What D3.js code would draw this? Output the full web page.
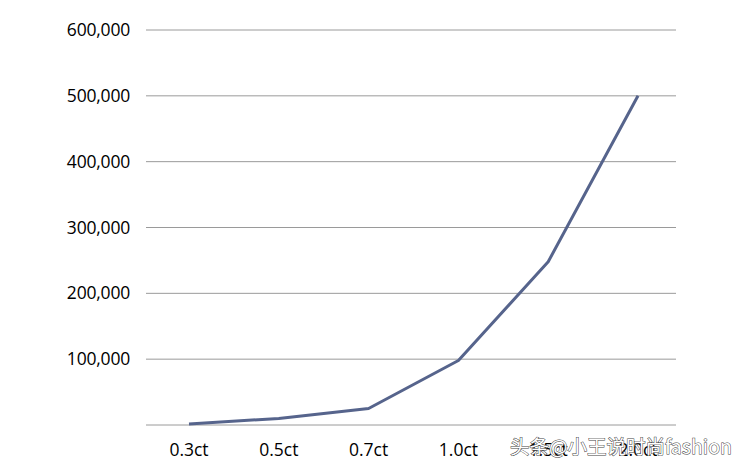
<!DOCTYPE html>
<html><head><meta charset="utf-8">
<script src="https://cdn.jsdelivr.net/npm/d3@7"></script>
<style>body{margin:0;background:#fff}svg{display:block}</style>
</head><body>
<svg id="c" width="750" height="469"></svg>
<script>
const categories = ["0.3ct","0.5ct","0.7ct","1.0ct","1.5ct","2.0ct"];
const values = [1500, 10000, 25000, 98000, 248000, 500000];
const yTicks = [100000,200000,300000,400000,500000,600000];
const watermark = "头条@小王说时尚fashion";

const svg = d3.select("#c");
const x = d3.scalePoint().domain(categories).range([189, 638]);
const y = d3.scaleLinear().domain([0, 600000]).range([425, 30]);
const fmt = d3.format(",");
const font = "'Open Sans', 'Noto Sans', sans-serif";

// gridlines
svg.append("g").selectAll("line").data([0].concat(yTicks)).join("line")
  .attr("x1", 146).attr("x2", 676)
  .attr("y1", d => y(d)).attr("y2", d => y(d))
  .attr("stroke", "#9a9a9a").attr("stroke-width", 1);

// y labels
svg.append("g").selectAll("text").data(yTicks).join("text")
  .attr("x", 130).attr("y", d => y(d) + 6)
  .attr("text-anchor", "end")
  .attr("font-family", font).attr("font-size", 17.5).attr("fill", "#000")
  .attr("font-weight", 500)
  .attr("letter-spacing", -0.2)
  .text(d => fmt(d));

// x labels
svg.append("g").selectAll("text").data(categories).join("text")
  .attr("x", d => x(d)).attr("y", 456)
  .attr("text-anchor", "middle")
  .attr("font-family", font).attr("font-size", 17.5).attr("fill", "#000")
  .attr("font-weight", 500)
  .text(d => d);

// line
const line = d3.line().x((d,i) => x(categories[i])).y(d => y(d));
svg.append("path").datum(values)
  .attr("d", line).attr("fill", "none")
  .attr("stroke", "#56648c").attr("stroke-width", 3)
  .attr("stroke-linejoin", "round");

// watermark
svg.append("text")
  .attr("x", 510).attr("y", 454)
  .attr("font-family", "'Noto Sans CJK SC', sans-serif").attr("font-size", 19.5)
  .attr("fill", "#fff").attr("stroke", "#444").attr("stroke-width", 1)
  .attr("paint-order", "stroke")
  .text(watermark);
</script>
</body></html>
